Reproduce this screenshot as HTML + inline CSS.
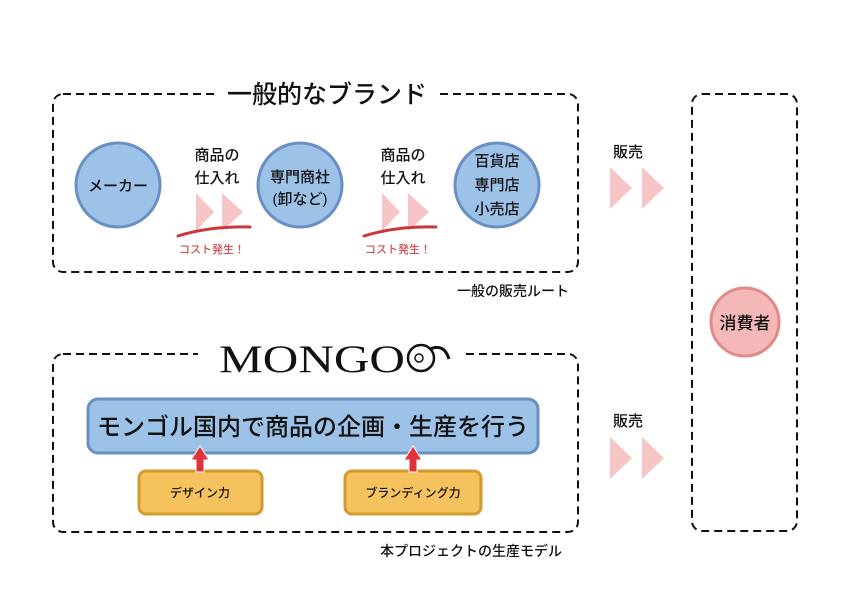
<!DOCTYPE html>
<html><head><meta charset="utf-8"><style>
html,body{margin:0;padding:0;background:#fff;}
svg{display:block;}
text{font-family:"Liberation Sans","Noto Sans CJK JP",sans-serif;fill:#111;font-weight:500;}
</style></head><body>
<svg width="842" height="595" viewBox="0 0 842 595" xmlns="http://www.w3.org/2000/svg">
<g fill="none" stroke="#111" stroke-width="2" stroke-dasharray="8,5">
<rect x="53" y="94" width="525" height="178" rx="10"/>
<rect x="53" y="354" width="525" height="178" rx="10"/>
<rect x="692" y="94" width="105" height="437" rx="10"/>
</g>
<rect x="215" y="82" width="225" height="24" fill="#fff"/>
<rect x="198" y="338" width="264" height="32" fill="#fff"/>
<text x="405" y="372" font-size="39" text-anchor="end" textLength="186" lengthAdjust="spacingAndGlyphs" style="font-family:'Liberation Serif',serif;font-weight:normal">MONGO</text>
<text x="327" y="103" font-size="25" text-anchor="middle">一般的なブランド</text>
<circle cx="421" cy="358" r="13" fill="none" stroke="#111" stroke-width="2.5"/>
<circle cx="419" cy="358" r="4" fill="none" stroke="#111" stroke-width="1.5"/>
<path d="M430 349 q14 -6 19 10" fill="none" stroke="#111" stroke-width="3"/>
<g fill="#9cc2e8" stroke="#6b8fc4" stroke-width="3">
<circle cx="118" cy="185" r="42"/><circle cx="300" cy="185" r="42"/><circle cx="497" cy="185" r="42"/>
</g>
<text x="118" y="191" font-size="15" text-anchor="middle">メーカー</text>
<text x="300" y="182" font-size="15" text-anchor="middle">専門商社</text>
<text x="300" y="204" font-size="15" text-anchor="middle">(卸など)</text>
<text x="497" y="166" font-size="15" text-anchor="middle">百貨店</text>
<text x="497" y="190" font-size="15" text-anchor="middle">専門店</text>
<text x="497" y="214" font-size="15" text-anchor="middle">小売店</text>
<g font-size="15" text-anchor="middle">
<text x="217" y="160">商品の</text><text x="217" y="183">仕入れ</text>
<text x="403" y="160">商品の</text><text x="403" y="183">仕入れ</text>
</g>
<g fill="#f6c6c6">
<polygon points="196,193 214,212 196,231"/><polygon points="222,193 243,212 222,231"/>
<polygon points="382,193 400,212 382,231"/><polygon points="408,193 429,212 408,231"/>
<polygon points="610,167 632,188 610,209"/><polygon points="642,167 664,188 642,209"/>
<polygon points="610,437 632,458 610,479"/><polygon points="642,437 664,458 642,479"/>
</g>
<g stroke="#c9383c" stroke-width="3" fill="none" stroke-linecap="round">
<path d="M178 236 Q210 226 250 227"/><path d="M364 236 Q396 226 436 227"/>
</g>
<text x="212" y="253" font-size="11" text-anchor="middle" style="fill:#d05050">コスト発生！</text>
<text x="398" y="253" font-size="11" text-anchor="middle" style="fill:#d05050">コスト発生！</text>
<text x="513" y="296" font-size="14" text-anchor="middle">一般の販売ルート</text>
<text x="628" y="157" font-size="15" text-anchor="middle">販売</text>
<text x="628" y="426" font-size="15" text-anchor="middle">販売</text>
<circle cx="745" cy="322" r="34" fill="#f4b8b8" stroke="#e08a8a" stroke-width="3"/>
<text x="745" y="329" font-size="17" text-anchor="middle">消費者</text>
<rect x="88" y="399" width="450" height="54" rx="10" fill="#9cc2e8" stroke="#6b8fc4" stroke-width="3"/>
<text x="313" y="435" font-size="24" text-anchor="middle">モンゴル国内で商品の企画・生産を行う</text>
<g fill="#f6c25e" stroke="#d39a30" stroke-width="3">
<rect x="139" y="471" width="123" height="43" rx="7"/><rect x="345" y="471" width="136" height="43" rx="7"/>
</g>
<text x="200" y="497" font-size="12" text-anchor="middle">デザイン力</text>
<text x="413" y="497" font-size="12" text-anchor="middle">ブランディング力</text>
<g fill="#e0323a" stroke="#fff" stroke-width="1">
<polygon points="200,446 209,460 204,460 204,472 196,472 196,460 191,460"/>
<polygon points="413,446 422,460 417,460 417,472 409,472 409,460 404,460"/>
</g>
<text x="471" y="556" font-size="14" text-anchor="middle">本プロジェクトの生産モデル</text>
</svg>
</body></html>
